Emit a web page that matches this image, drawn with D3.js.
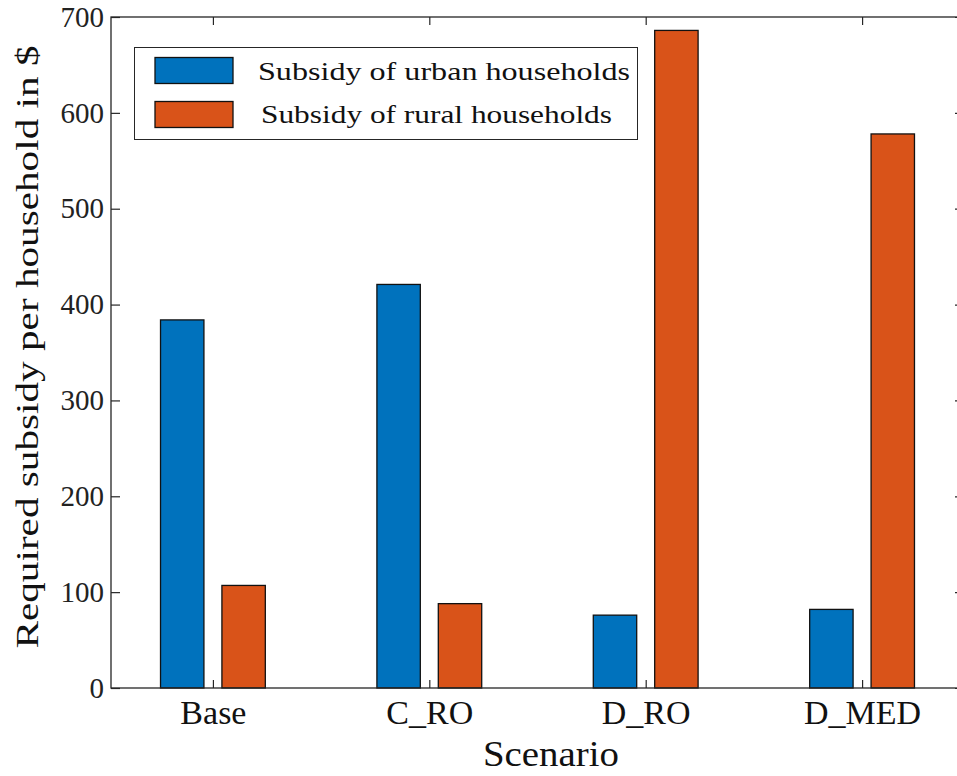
<!DOCTYPE html>
<html>
<head>
<meta charset="utf-8">
<script src="https://cdn.jsdelivr.net/npm/d3@7"></script>
<style>
  html, body { margin: 0; padding: 0; background: #fff; }
  svg { display: block; font-family: "Liberation Serif", "DejaVu Serif", serif; }
</style>
</head>
<body>
<svg id="chart" width="957" height="776"></svg>
<script>
const categories = ["Base", "C_RO", "D_RO", "D_MED"];
const seriesNames = ["Subsidy of urban households", "Subsidy of rural households"];
const urbanSubsidy = [384, 421, 76, 82];
const ruralSubsidy = [107, 88, 686, 578];
const yTicks = [0, 100, 200, 300, 400, 500, 600, 700];
const colors = ["#0072BD", "#D95319"];

const svg = d3.select("#chart");
const L = 111, R = 964, T = 17, B = 688;
const axisColor = "#262626";

const x = d3.scalePoint().domain(categories).range([L, R]).padding(0.471);
const xSub = d3.scaleBand().domain([0, 1]).range([-52.4, 52.4]).paddingInner(0.293);
const y = d3.scaleLinear().domain([0, 700]).range([B, T]);

const series = [urbanSubsidy, ruralSubsidy];

// bars
series.forEach((vals, si) => {
  svg.append("g").selectAll("rect")
    .data(categories.map((c, i) => ({ c, v: vals[i] })))
    .join("rect")
    .attr("x", d => x(d.c) + xSub(si))
    .attr("width", xSub.bandwidth())
    .attr("y", d => y(d.v))
    .attr("height", d => B - y(d.v))
    .attr("fill", colors[si])
    .attr("stroke", "#111")
    .attr("stroke-width", 1.3);
});

// axes box
svg.append("rect").attr("x", L).attr("y", T).attr("width", R - L).attr("height", B - T)
  .attr("fill", "none").attr("stroke", axisColor).attr("stroke-width", 1.3);

// left axis
const yAxisL = d3.axisLeft(y).tickValues(yTicks).tickSize(-9).tickFormat(d3.format("d"));
const gL = svg.append("g").attr("transform", `translate(${L},0)`).call(yAxisL);
gL.select(".domain").remove();
gL.selectAll(".tick line").attr("stroke", axisColor).attr("stroke-width", 1.2);
gL.selectAll(".tick text").attr("font-size", 29).attr("fill", "#222")
  .attr("font-family", "Liberation Serif").attr("dy", "0.32em").attr("x", -7);

// right axis ticks
const yAxisR = d3.axisRight(y).tickValues(yTicks).tickSize(-9).tickFormat("");
const gR = svg.append("g").attr("transform", `translate(${R},0)`).call(yAxisR);
gR.select(".domain").remove();
gR.selectAll(".tick line").attr("stroke", axisColor).attr("stroke-width", 1.2);

// bottom axis
const xAxisB = d3.axisBottom(x).tickSize(-8);
const gB = svg.append("g").attr("transform", `translate(0,${B})`).call(xAxisB);
gB.select(".domain").remove();
gB.selectAll(".tick line").attr("stroke", axisColor).attr("stroke-width", 1.2);
gB.selectAll(".tick text").attr("font-size", 34).attr("fill", "#111")
  .attr("font-family", "Liberation Serif").attr("dy", null).attr("y", 36);

// top axis ticks
const xAxisT = d3.axisTop(x).tickSize(-8).tickFormat("");
const gT = svg.append("g").attr("transform", `translate(0,${T})`).call(xAxisT);
gT.select(".domain").remove();
gT.selectAll(".tick line").attr("stroke", axisColor).attr("stroke-width", 1.2);

// axis labels
svg.append("text").attr("x", 551).attr("y", 766).attr("text-anchor", "middle")
  .attr("font-size", 36).attr("fill", "#111")
  .attr("textLength", 136).attr("lengthAdjust", "spacingAndGlyphs").text("Scenario");
svg.append("text").attr("transform", "translate(38,347) rotate(-90)").attr("text-anchor", "middle")
  .attr("font-size", 32).attr("fill", "#111")
  .attr("textLength", 603).attr("lengthAdjust", "spacingAndGlyphs")
  .text("Required subsidy per household in $");

// legend
const lg = svg.append("g");
lg.append("rect").attr("x", 134.5).attr("y", 47.5).attr("width", 503).attr("height", 92)
  .attr("fill", "#fff").attr("stroke", axisColor).attr("stroke-width", 1);
const legRows = [
  { y0: 57.5, base: 80, tx: 258, tl: 372 },
  { y0: 101.5, base: 123, tx: 261, tl: 351 }
];
legRows.forEach((r, i) => {
  lg.append("rect").attr("x", 155).attr("y", r.y0).attr("width", 78).attr("height", 26)
    .attr("fill", colors[i]).attr("stroke", "#111").attr("stroke-width", 1.3);
  lg.append("text").attr("x", r.tx).attr("y", r.base).attr("font-size", 25).attr("fill", "#111")
    .attr("textLength", r.tl).attr("lengthAdjust", "spacingAndGlyphs")
    .text(seriesNames[i]);
});
</script>
</body>
</html>
